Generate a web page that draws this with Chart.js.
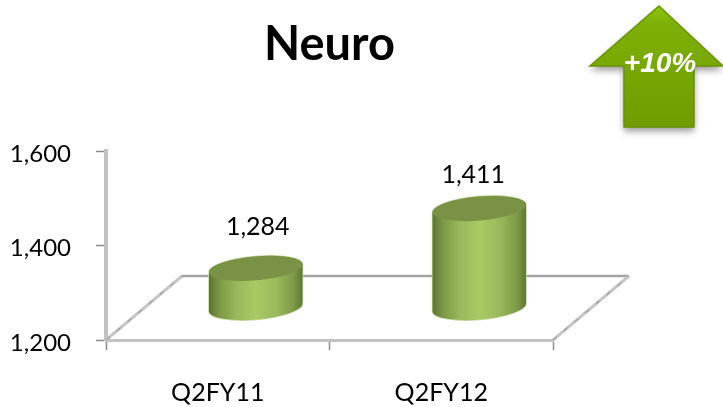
<!DOCTYPE html>
<html lang="en">
<head>
    <meta charset="UTF-8">
    <title>Neuro</title>
    <script src="https://cdnjs.cloudflare.com/ajax/libs/Chart.js/4.4.1/chart.umd.min.js"></script>
    <style>
        body { margin: 0; background-color: #fff; }
        #chartContainer { width: 723px; height: 407px; }
    </style>
</head>
<body>
    <div id="chartContainer">
        <canvas id="neuroChart"></canvas>
    </div>

    <script>
        const categories = ['Q2FY11', 'Q2FY12'];
        const revenue = [1284, 1411];
        const yTicks = [1200, 1400, 1600];
        const growthLabel = '+10%';

        const fontName = 'Lato, sans-serif';
        const fmt = v => v.toLocaleString('en-US');

        // floor depth of the fake 3D box, bars stand halfway back
        const depthX = 76;
        const depthY = 64;

        function drawFloor(chart) {
            const { ctx, chartArea: a } = chart;
            ctx.save();
            // back edge
            ctx.strokeStyle = '#a3a3a3';
            ctx.lineWidth = 2.5;
            ctx.beginPath();
            ctx.moveTo(a.left + depthX, a.bottom - depthY);
            ctx.lineTo(a.right + depthX, a.bottom - depthY);
            ctx.stroke();
            // side edges, light with a dashed dark core
            [a.left, a.right].forEach(x => {
                ctx.strokeStyle = '#c6c6c6';
                ctx.lineWidth = 3;
                ctx.setLineDash([]);
                ctx.beginPath();
                ctx.moveTo(x, a.bottom);
                ctx.lineTo(x + depthX, a.bottom - depthY);
                ctx.stroke();
                ctx.strokeStyle = '#8f8f8f';
                ctx.lineWidth = 1;
                ctx.setLineDash([5, 9]);
                ctx.stroke();
            });
            ctx.restore();
        }

        function drawCylinder(ctx, x, top, base, w) {
            const rx = w / 2;
            const ry = 12;
            const tilt = -5 * Math.PI / 180;

            const body = ctx.createLinearGradient(x - rx, 0, x + rx, 0);
            body.addColorStop(0, '#5c7430');
            body.addColorStop(0.12, '#7d9a47');
            body.addColorStop(0.3, '#9ab95b');
            body.addColorStop(0.5, '#a9c965');
            body.addColorStop(0.72, '#9ab95b');
            body.addColorStop(0.9, '#7d9a47');
            body.addColorStop(1, '#5f7832');

            ctx.save();
            ctx.beginPath();
            ctx.ellipse(x, base, rx, ry, tilt, 0, Math.PI, false);
            ctx.ellipse(x, top, rx, ry, tilt, Math.PI, Math.PI * 2, false);
            ctx.closePath();
            ctx.strokeStyle = '#c9d9a4';
            ctx.lineWidth = 1.5;
            ctx.stroke();
            ctx.fillStyle = body;
            ctx.fill();

            ctx.beginPath();
            ctx.ellipse(x, top, rx, ry, tilt, 0, Math.PI * 2);
            ctx.fillStyle = '#7a9245';
            ctx.fill();
            ctx.restore();
        }

        function drawArrow(ctx) {
            ctx.save();
            const outline = () => {
                ctx.beginPath();
                ctx.moveTo(659, 6);
                ctx.lineTo(723, 66);
                ctx.lineTo(694, 66);
                ctx.lineTo(694, 127);
                ctx.lineTo(624, 127);
                ctx.lineTo(624, 66);
                ctx.lineTo(590, 66);
                ctx.closePath();
            };
            const fill = ctx.createLinearGradient(0, 6, 0, 127);
            fill.addColorStop(0, '#8ac40f');
            fill.addColorStop(0.15, '#7eb008');
            fill.addColorStop(1, '#6f9c00');

            ctx.shadowColor = 'rgba(60,60,60,0.55)';
            ctx.shadowBlur = 7;
            ctx.shadowOffsetY = 4;
            outline();
            ctx.fillStyle = fill;
            ctx.fill();
            ctx.shadowColor = 'transparent';

            // bevel along the edges
            ctx.strokeStyle = '#689400';
            ctx.lineWidth = 1.5;
            outline();
            ctx.stroke();

            ctx.fillStyle = '#fff';
            ctx.font = 'italic bold 28px "Liberation Sans", sans-serif';
            ctx.textAlign = 'center';
            ctx.textBaseline = 'middle';
            ctx.fillText(growthLabel, 660, 64);
            ctx.restore();
        }

        const neuroPlugin = {
            id: 'neuro3d',
            beforeDatasetsDraw(chart) {
                drawFloor(chart);
            },
            afterDatasetsDraw(chart) {
                const { ctx } = chart;
                const nudgeX = [2, -6];
                const gapY = [41, 34];
                chart.getDatasetMeta(0).data.forEach((bar, i) => {
                    const p = bar.getProps(['x', 'y', 'base', 'width'], true);
                    const x = p.x + depthX / 2;
                    const top = p.y - depthY / 2;
                    const base = p.base - depthY / 2;
                    drawCylinder(ctx, x, top, base, p.width);

                    ctx.save();
                    ctx.fillStyle = '#000';
                    ctx.font = '25px ' + fontName;
                    ctx.textAlign = 'center';
                    ctx.textBaseline = 'middle';
                    ctx.fillText(fmt(revenue[i]), x + nudgeX[i], top - gapY[i]);
                    ctx.restore();
                });
                drawArrow(ctx);
            }
        };

        const ctx = document.getElementById('neuroChart').getContext('2d');
        new Chart(ctx, {
            type: 'bar',
            data: {
                labels: categories,
                datasets: [{
                    label: 'Neuro',
                    data: revenue,
                    base: yTicks[0],
                    backgroundColor: 'transparent',
                    categoryPercentage: 1,
                    barPercentage: 0.42
                }]
            },
            plugins: [neuroPlugin],
            options: {
                responsive: true,
                maintainAspectRatio: false,
                animation: false,
                layout: { padding: { top: 17, right: 170 } },
                plugins: {
                    legend: { display: false },
                    tooltip: { enabled: false },
                    title: {
                        display: true,
                        text: 'Neuro',
                        fullSize: false,
                        color: '#000',
                        font: { family: fontName, size: 47, weight: 'bold', lineHeight: 1.2 },
                        padding: { top: 0, bottom: 78 }
                    }
                },
                scales: {
                    x: {
                        afterFit(scale) { scale.height = 67; },
                        border: { color: '#c2c2c2', width: 3 },
                        grid: {
                            offset: true,
                            drawOnChartArea: false,
                            tickLength: 10,
                            tickColor: '#8c8c8c',
                            tickWidth: 1.5
                        },
                        ticks: {
                            color: '#000',
                            padding: 28,
                            font: { family: fontName, size: 25 }
                        }
                    },
                    y: {
                        min: yTicks[0],
                        max: yTicks[yTicks.length - 1],
                        afterFit(scale) { scale.width = 106; },
                        afterBuildTicks(scale) { scale.ticks = yTicks.map(value => ({ value })); },
                        border: { color: '#c2c2c2', width: 4 },
                        grid: {
                            drawOnChartArea: false,
                            tickLength: 10,
                            tickColor: '#8c8c8c',
                            tickWidth: 1.5
                        },
                        ticks: {
                            color: '#000',
                            padding: 25,
                            labelOffset: 3,
                            callback: v => fmt(v),
                            font: { family: fontName, size: 24 }
                        }
                    }
                }
            }
        });
    </script>
</body>
</html>
